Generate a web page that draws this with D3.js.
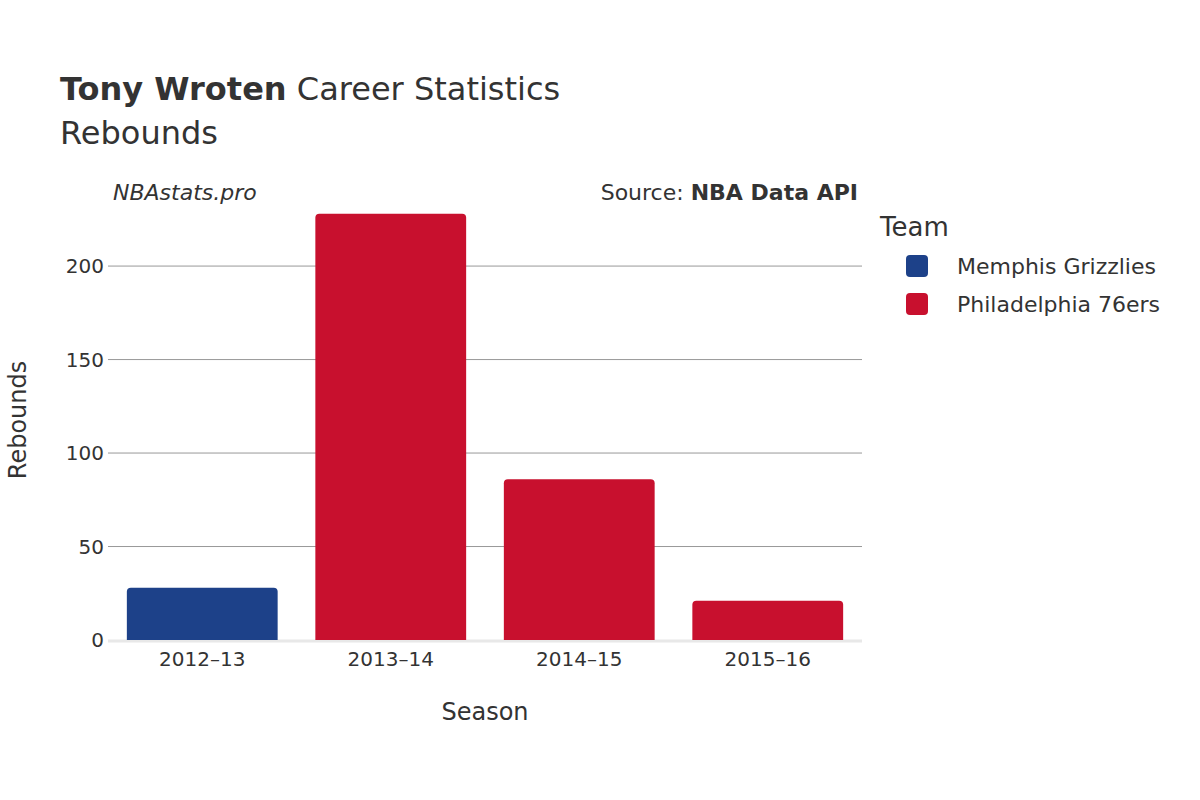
<!DOCTYPE html>
<html><head><meta charset="utf-8">
<script src="https://cdn.jsdelivr.net/npm/d3@7"></script>
<style>body{margin:0;background:#fff;font-family:"DejaVu Sans",sans-serif;}</style>
</head><body>
<script>
var seasons = ["2012\u201313", "2013\u201314", "2014\u201315", "2015\u201316"];
var teams = ["Memphis Grizzlies", "Philadelphia 76ers", "Philadelphia 76ers", "Philadelphia 76ers"];
var rebounds = [28, 228, 86, 21];
var legendTeams = ["Memphis Grizzlies", "Philadelphia 76ers"];
var teamColors = ["#1d4189", "#c8102e"];
var yTicks = [0, 50, 100, 150, 200];

var W = 1200, H = 800;
var margin = {top: 181, right: 338, bottom: 160, left: 108};
var svg = d3.select("body").append("svg").attr("width", W).attr("height", H);
var color = d3.scaleOrdinal().domain(legendTeams).range(teamColors);

var x = d3.scaleBand().domain(seasons).range([margin.left, W - margin.right]).paddingInner(0.2).paddingOuter(0.1);
var y = d3.scaleLinear().domain([0, 245.5]).range([H - margin.bottom, margin.top]);

// grid
svg.append("g").selectAll("line").data(yTicks.slice(1)).enter().append("line")
	.attr("x1", margin.left).attr("x2", W - margin.right)
	.attr("y1", function(d){ return y(d); }).attr("y2", function(d){ return y(d); })
	.attr("stroke", "#999").attr("stroke-width", 1);
svg.append("line").attr("x1", margin.left).attr("x2", W - margin.right)
	.attr("y1", y(0) + 1).attr("y2", y(0) + 1).attr("stroke", "#e8e8e8").attr("stroke-width", 3);

// bars
svg.append("g").selectAll("path").data(seasons).enter().append("path")
	.attr("fill", function(d, i){ return color(teams[i]); })
	.attr("d", function(d, i){
		var x0 = x(d), w = x.bandwidth(), y0 = y(rebounds[i]), y1 = y(0), r = 4;
		return "M" + x0 + "," + y1 + "V" + (y0 + r) + "Q" + x0 + "," + y0 + " " + (x0 + r) + "," + y0 +
			"H" + (x0 + w - r) + "Q" + (x0 + w) + "," + y0 + " " + (x0 + w) + "," + (y0 + r) + "V" + y1 + "Z";
	});

// y tick labels
svg.append("g").selectAll("text").data(yTicks).enter().append("text")
	.attr("x", margin.left - 4).attr("y", function(d){ return y(d); }).attr("dy", "0.35em")
	.attr("text-anchor", "end").attr("font-size", 20).attr("fill", "#333").text(function(d){ return d; });
// x tick labels
svg.append("g").selectAll("text").data(seasons).enter().append("text")
	.attr("x", function(d){ return x(d) + x.bandwidth() / 2; }).attr("y", 666)
	.attr("text-anchor", "middle").attr("font-size", 20).attr("fill", "#333").text(function(d){ return d; });

svg.append("text").attr("x", 485).attr("y", 720).attr("text-anchor", "middle")
	.attr("font-size", 24).attr("fill", "#333").text("Season");
svg.append("text").attr("transform", "translate(26,420) rotate(-90)").attr("text-anchor", "middle")
	.attr("font-size", 24).attr("fill", "#333").text("Rebounds");

// titles
var t = svg.append("text").attr("x", 60).attr("y", 100).attr("font-size", 32).attr("fill", "#333");
t.append("tspan").attr("font-weight", "bold").text("Tony Wroten");
t.append("tspan").text(" Career Statistics");
svg.append("text").attr("x", 60).attr("y", 144).attr("font-size", 32).attr("fill", "#333").text("Rebounds");
svg.append("text").attr("x", 113).attr("y", 200).attr("font-size", 22).attr("font-style", "italic")
	.attr("fill", "#333").text("NBAstats.pro");
var s = svg.append("text").attr("x", 858).attr("y", 200).attr("text-anchor", "end").attr("font-size", 22).attr("fill", "#333");
s.append("tspan").text("Source: ");
s.append("tspan").attr("font-weight", "bold").text("NBA Data API");

// legend
svg.append("text").attr("x", 880).attr("y", 236).attr("font-size", 26).attr("fill", "#333").text("Team");
var lg = svg.append("g").selectAll("g").data(legendTeams).enter().append("g")
	.attr("transform", function(d, i){ return "translate(906," + (255 + i * 38) + ")"; });
lg.append("rect").attr("width", 22).attr("height", 22).attr("rx", 4).attr("fill", function(d){ return color(d); });
lg.append("text").attr("x", 51).attr("y", 11).attr("dy", "0.35em").attr("font-size", 22).attr("fill", "#333")
	.text(function(d){ return d; });
</script>
</body></html>
